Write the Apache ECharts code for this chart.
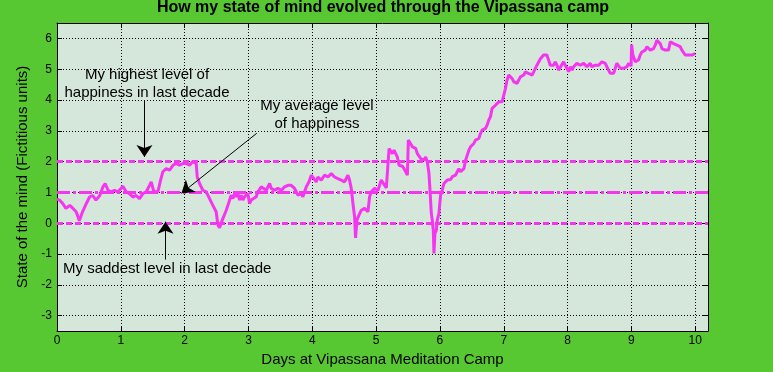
<!DOCTYPE html>
<html><head><meta charset="utf-8">
<script src="https://cdn.jsdelivr.net/npm/echarts@6/dist/echarts.min.js"></script>
<style>html,body{margin:0;padding:0;background:#58C832;}#c{width:773px;height:372px;}</style>
</head><body><div id="c"></div>
<script>
const days = [0.00,0.04,0.09,0.14,0.20,0.25,0.30,0.35,0.40,0.46,0.51,0.56,0.61,0.67,0.72,0.755,0.80,0.85,0.90,0.95,
1.006,1.032,1.084,1.136,1.189,1.241,1.293,1.345,1.398,1.45,1.476,1.518,1.581,1.623,1.659,1.711,1.764,1.816,1.868,1.92,1.972,
2.025,2.077,2.129,2.181,2.197,2.233,2.286,2.338,2.39,2.442,2.494,2.521,2.547,2.573,2.599,2.625,2.652,2.678,2.704,2.73,2.756,2.782,2.808,2.834,2.861,2.887,2.913,2.939,2.965,2.991,
3.017,3.043,3.069,3.122,3.148,3.174,3.2,3.226,3.278,3.331,3.357,3.409,3.461,3.514,3.566,3.618,3.67,3.722,3.748,3.775,3.827,3.853,3.879,3.905,3.947,3.984,
4.01,4.062,4.088,4.14,4.193,4.245,4.297,4.349,4.401,4.454,4.506,4.558,4.584,4.61,4.637,4.663,4.678,4.699,4.731,4.768,4.82,4.872,4.898,4.924,4.977,
5.029,5.081,5.133,5.16,5.19,5.203,5.229,5.255,5.281,5.307,5.333,5.359,5.385,5.411,5.438,5.464,5.49,5.505,5.526,5.568,5.62,5.646,5.672,5.698,5.724,5.75,5.776,5.802,5.828,5.844,5.865,5.88,5.896,5.906,5.922,5.943,5.958,5.984,
6.01,6.036,6.063,6.089,6.115,6.141,6.167,6.193,6.219,6.245,6.271,6.297,6.323,6.349,6.375,6.401,6.427,6.453,6.479,6.505,6.531,6.557,6.583,6.609,6.635,6.661,6.688,6.714,6.74,6.766,6.792,6.818,6.844,6.87,6.896,6.922,6.948,6.974,
7.0,7.026,7.052,7.078,7.104,7.131,7.157,7.183,7.209,7.235,7.261,7.287,7.313,7.339,7.366,7.392,7.418,7.444,7.47,7.52,7.572,7.624,7.676,7.702,7.728,7.781,7.807,7.833,7.859,7.885,7.937,7.963,7.99,
8.016,8.042,8.068,8.094,8.146,8.172,8.198,8.225,8.251,8.277,8.303,8.329,8.355,8.381,8.407,8.433,8.46,8.486,8.512,8.538,8.564,8.59,8.616,8.642,8.668,8.695,8.721,8.747,8.773,8.799,8.825,8.851,8.877,8.903,8.93,8.956,8.982,8.995,
9.003,9.023,9.044,9.06,9.086,9.112,9.138,9.164,9.191,9.217,9.243,9.269,9.295,9.321,9.347,9.373,9.399,9.426,9.452,9.478,9.504,9.53,9.556,9.582,9.608,9.634,9.661,9.687,9.713,9.739,9.765,9.791,9.817,9.843,9.869,9.896,9.922,9.948,9.974,10.0];
const mood = [0.78,0.75,0.64,0.48,0.58,0.48,0.37,0.08,0.37,0.64,0.85,0.90,0.75,0.90,1.18,1.29,1.07,1.02,1.07,1.02,
1.13,1.20,1.02,0.96,0.85,0.90,0.80,0.96,1.02,1.23,1.34,1.02,1.02,1.40,1.67,1.77,1.72,1.88,1.94,1.88,1.94,
1.94,1.88,2.00,1.94,1.50,1.29,1.07,1.02,0.80,0.58,0.37,-0.06,-0.15,-0.12,0.15,0.20,0.42,0.58,0.75,0.91,0.80,0.96,0.86,0.96,0.75,0.91,0.75,0.86,0.91,0.96,
0.64,0.75,0.80,0.86,1.02,1.07,1.18,1.13,1.07,1.29,1.13,1.07,1.13,1.07,1.18,1.23,1.23,1.13,1.02,0.91,0.96,0.86,1.02,1.18,1.34,1.56,
1.50,1.34,1.50,1.40,1.56,1.50,1.61,1.50,1.45,1.40,1.34,1.56,1.40,1.13,0.64,0.20,-0.48,0.10,0.26,0.42,0.48,0.37,0.86,1.02,1.13,
1.07,1.40,1.23,1.15,1.10,2.42,2.42,2.26,2.37,2.26,2.15,1.88,1.83,1.85,1.77,1.67,1.56,2.70,2.70,2.48,2.43,2.26,2.21,2.10,2.15,2.05,2.15,1.99,1.62,1.08,0.32,0.10,-0.23,-0.98,-0.33,-0.23,0.10,0.32,
0.91,1.07,1.29,1.35,1.40,1.45,1.42,1.51,1.56,1.56,1.67,1.77,1.67,1.62,1.77,2.04,2.10,2.37,2.48,2.54,2.59,2.70,2.75,2.75,2.91,3.02,3.08,3.08,3.19,3.35,3.46,3.73,3.78,3.83,3.89,3.94,4.00,3.94,
4.00,4.37,4.65,4.81,4.86,4.70,4.59,4.59,4.54,4.65,4.75,4.70,4.81,4.91,4.97,4.86,4.81,4.81,4.86,5.13,5.33,5.46,5.46,5.30,5.13,5.13,5.24,5.13,4.97,4.92,5.24,5.13,5.03,
4.92,5.08,4.97,5.08,5.19,5.19,5.13,5.08,5.19,5.13,5.08,5.13,5.19,5.08,5.03,5.13,5.08,5.13,5.19,5.24,5.19,5.19,5.13,4.97,4.87,4.92,4.87,5.03,5.19,5.13,5.03,5.03,5.03,5.00,5.08,5.19,5.13,5.10,
5.80,5.46,5.40,5.24,5.19,5.30,5.46,5.56,5.56,5.62,5.73,5.73,5.62,5.67,5.67,5.78,5.94,5.94,5.83,5.67,5.62,5.62,5.56,5.62,5.89,5.89,5.83,5.78,5.78,5.78,5.73,5.62,5.56,5.46,5.40,5.46,5.40,5.46,5.46,5.51];

const xTickLabels = ['0','1','2','3','4','5','6','7','8','9','10'];
const yTickLabels = ['-3','-2','-1','0','1','2','3','4','5','6'];
const refLevels = [2, 1, 0];
const arrowStart = [[1.37, 4.0], [3.13, 2.92], [1.70, -1.18]];
const arrowEnd = [[1.37, 2.15], [1.95, 0.97], [1.70, 0.05]];
const notes = ['My highest level of\nhappiness in last decade', 'My average level\nof happiness', 'My saddest level in last decade'];

const FONT = "'Liberation Sans', Arial, Helvetica, sans-serif";
const MAG = '#F535F0';
const refDash = [[6, 3], [13, 3, 3, 3], [6, 3]];

const chart = echarts.init(document.getElementById('c'), null, {renderer: 'canvas'});
const fmtX = v => xTickLabels.includes(String(v)) ? String(v) : '';
const fmtY = v => yTickLabels.includes(String(v)) ? String(v) : '';
const axisLineStyle = {show: true, onZero: false, lineStyle: {color: '#000', width: 1}};
const tickStyle = {show: true, inside: true, length: 5, lineStyle: {color: '#000', width: 1}};
const gridLine = {show: true, lineStyle: {color: '#000', width: 1, type: [1, 2]}};

const option = {
  backgroundColor: '#58C832',
  animation: false,
  title: {
    text: 'How my state of mind evolved through the Vipassana camp',
    left: 383, textAlign: 'center', top: 0, padding: 0,
    textStyle: {fontFamily: FONT, fontWeight: 'bold', fontSize: 16, color: '#000'}
  },
  grid: {left: 57, top: 23, width: 651, height: 308, show: true, backgroundColor: '#D5E6DB', borderWidth: 0},
  xAxis: [
    {type: 'value', min: 0, max: 10.2, interval: 1, position: 'bottom',
     axisLine: axisLineStyle, axisTick: tickStyle,
     axisLabel: {formatter: fmtX, color: '#000', fontSize: 12, fontFamily: FONT, margin: 4},
     splitLine: gridLine,
     name: 'Days at Vipassana Meditation Camp', nameLocation: 'middle', nameGap: 20,
     nameTextStyle: {fontSize: 15, color: '#000', fontFamily: FONT}},
    {type: 'value', min: 0, max: 10.2, interval: 1, position: 'top',
     axisLine: axisLineStyle, axisTick: tickStyle, axisLabel: {show: false}, splitLine: {show: false}}
  ],
  yAxis: [
    {type: 'value', min: -3.5, max: 6.5, minInterval: 1, maxInterval: 1, splitNumber: 10, position: 'left',
     axisLine: axisLineStyle, axisTick: tickStyle,
     axisLabel: {formatter: fmtY, color: '#000', fontSize: 12, fontFamily: FONT, margin: 5},
     splitLine: gridLine,
     name: 'State of the mind (Fictitious units)', nameLocation: 'middle', nameGap: 18, nameRotate: 90,
     nameTextStyle: {fontSize: 15, color: '#000', fontFamily: FONT}},
    {type: 'value', min: -3.5, max: 6.5, minInterval: 1, maxInterval: 1, splitNumber: 10, position: 'right',
     axisLine: axisLineStyle, axisTick: tickStyle, axisLabel: {show: false}, splitLine: {show: false}}
  ],
  series: [
    {type: 'line', data: [], z: 2, silent: true,
     markLine: {silent: true, symbol: ['none', 'none'], label: {show: false}, animation: false,
       data: refLevels.map((v, i) => ({yAxis: v, lineStyle: {color: MAG, width: 3, type: refDash[i]}}))}},
    {type: 'line', data: days.map((d, i) => [d, mood[i]]), showSymbol: false, z: 3, silent: true,
     lineStyle: {color: MAG, width: 3}},
    {type: 'line', data: [], z: 4, silent: true,
     markLine: {silent: true, symbol: ['none', 'arrow'], symbolSize: 12, label: {show: false}, animation: false,
       lineStyle: {color: '#000', width: 1, type: 'solid'},
       data: arrowStart.map((s, i) => [{coord: s, lineStyle: {color: '#000', width: 1, type: 'solid'}}, {coord: arrowEnd[i]}])}}
  ],
  graphic: [
    {type: 'text', x: 147, y: 66, z: 100, style: {text: notes[0], align: 'center', verticalAlign: 'top', fontSize: 15, fontFamily: FONT, lineHeight: 18, fill: '#000'}},
    {type: 'text', x: 317, y: 97, z: 100, style: {text: notes[1], align: 'center', verticalAlign: 'top', fontSize: 15, fontFamily: FONT, lineHeight: 18, fill: '#000'}},
    {type: 'text', x: 63, y: 260, z: 100, style: {text: notes[2], align: 'left', verticalAlign: 'top', fontSize: 15, fontFamily: FONT, lineHeight: 18, fill: '#000'}}
  ]
};
chart.setOption(option);
</script></body></html>
